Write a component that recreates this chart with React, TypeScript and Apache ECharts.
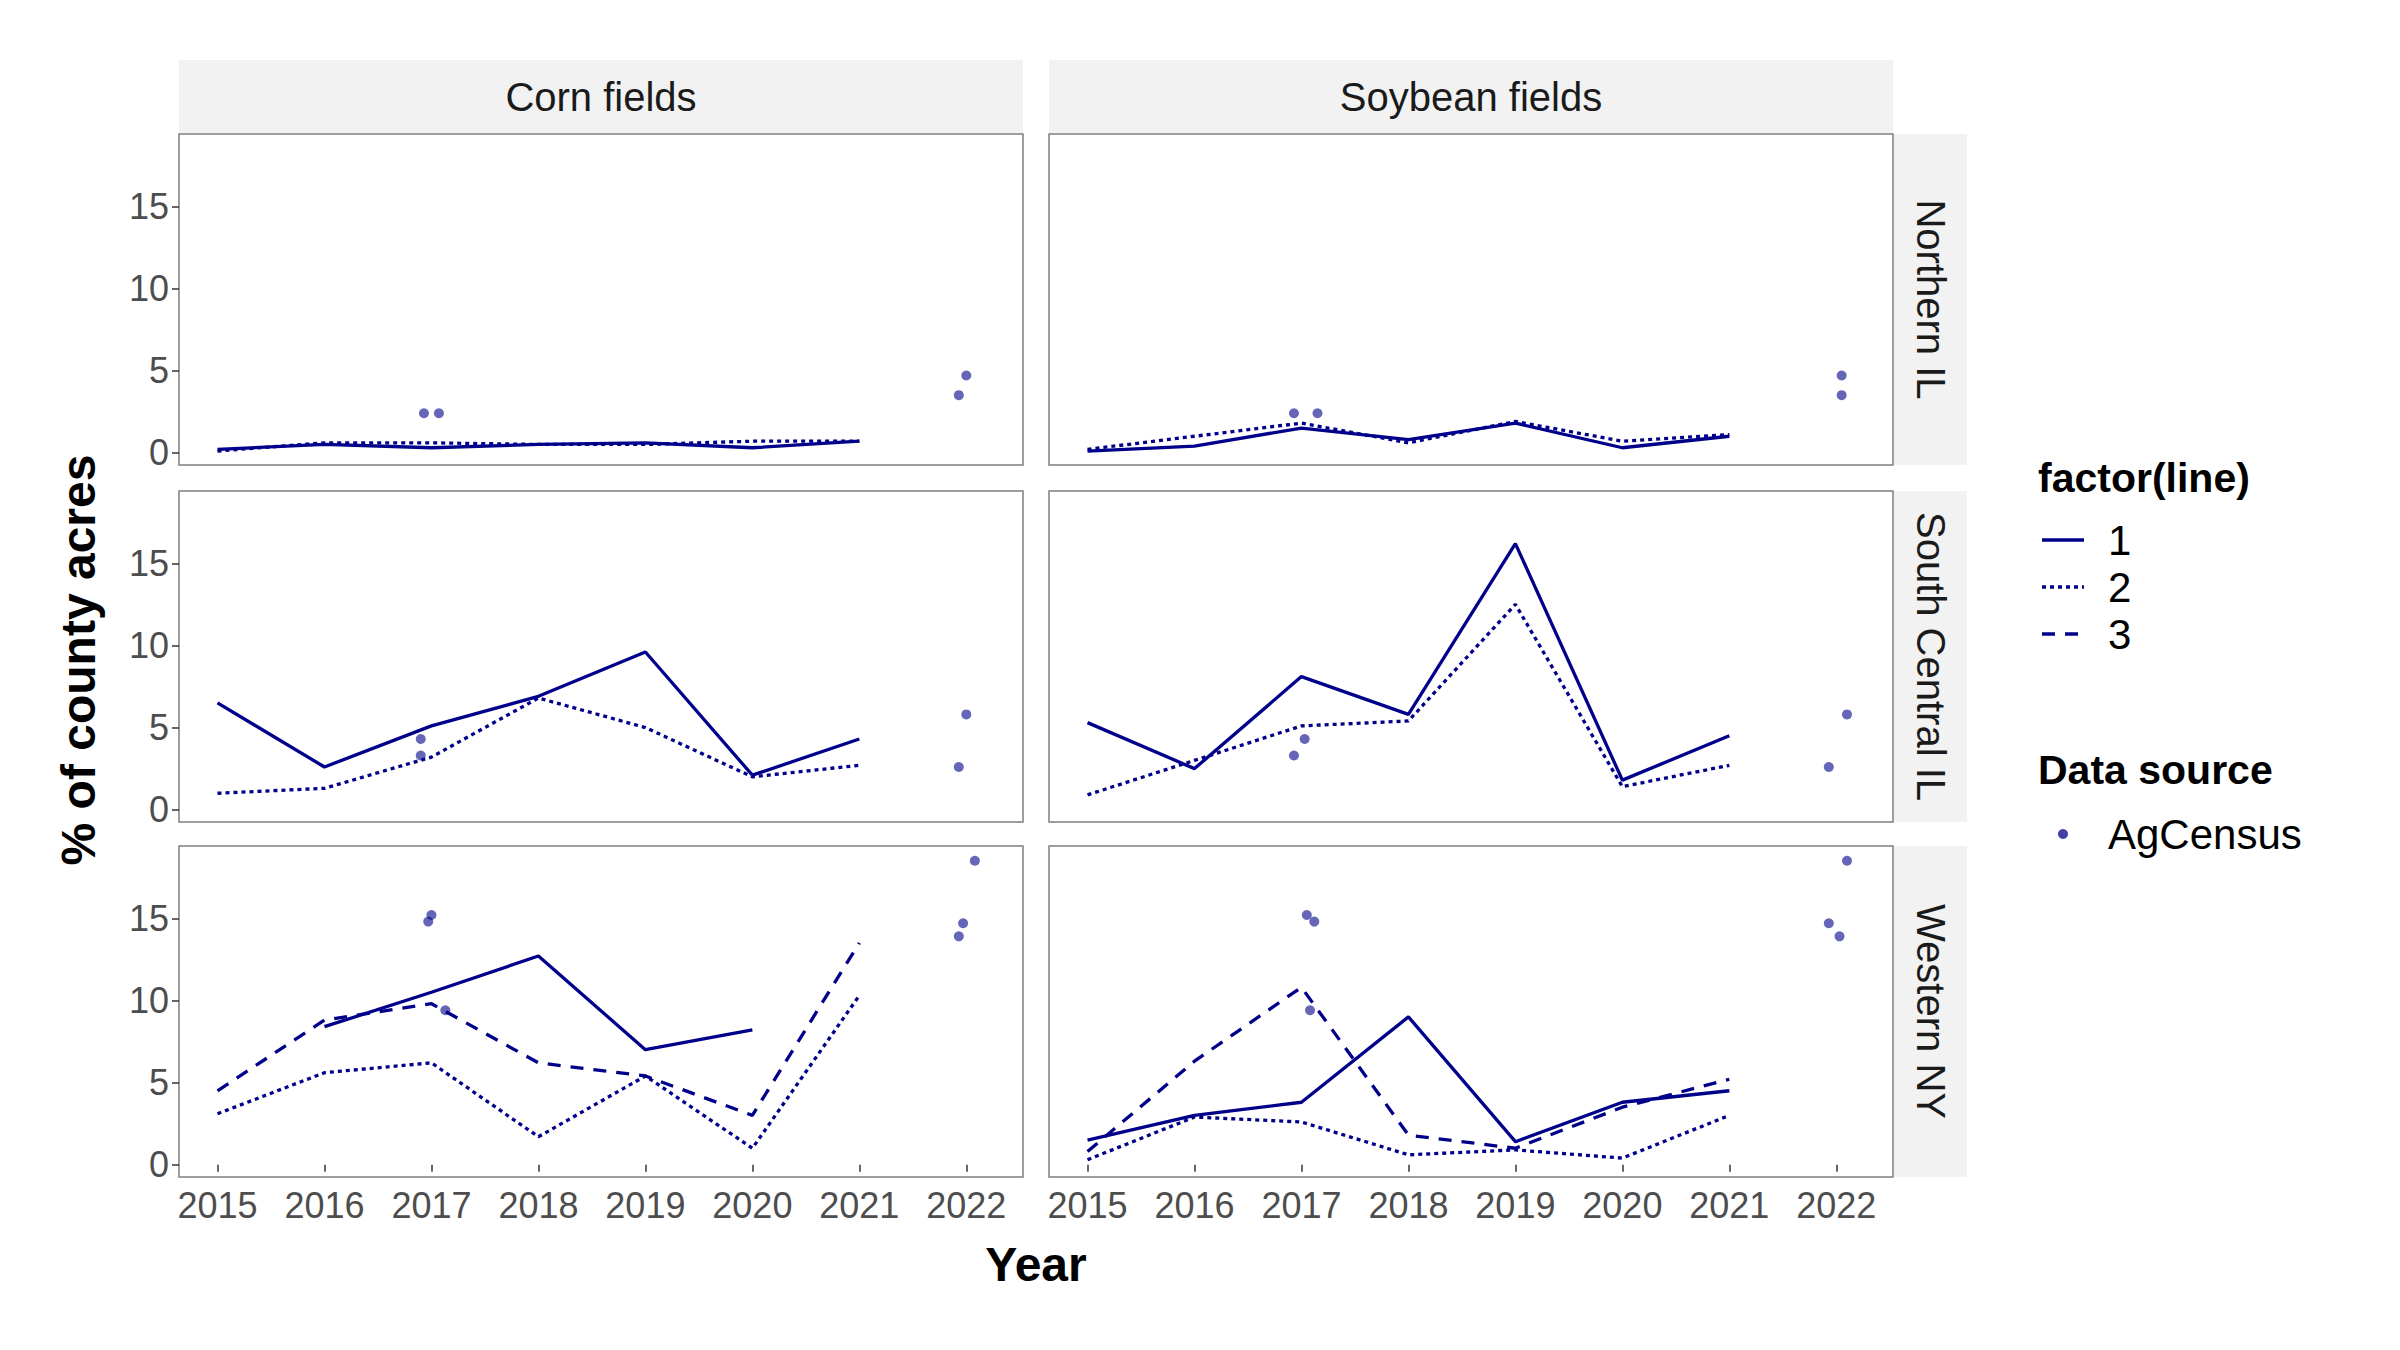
import React, { useEffect, useRef } from "react";
import * as echarts from "echarts";

const years = [2015, 2016, 2017, 2018, 2019, 2020, 2021];
const xTicks = [2015, 2016, 2017, 2018, 2019, 2020, 2021, 2022];
const yTicks = [0, 5, 10, 15];
const crops = ["Corn fields", "Soybean fields"];
const regions = ["Northern IL", "South Central IL", "Western NY"];

const nilCorn1 = [0.2, 0.5, 0.3, 0.5, 0.6, 0.3, 0.7];
const nilCorn2 = [0.1, 0.6, 0.6, 0.5, 0.5, 0.7, 0.7];
const nilSoy1 = [0.1, 0.4, 1.5, 0.8, 1.8, 0.3, 1.0];
const nilSoy2 = [0.2, 1.0, 1.8, 0.6, 1.9, 0.7, 1.1];
const scCorn1 = [6.5, 2.6, 5.1, 6.9, 9.6, 2.1, 4.3];
const scCorn2 = [1.0, 1.3, 3.2, 6.8, 5.0, 2.0, 2.7];
const scSoy1 = [5.3, 2.5, 8.1, 5.8, 16.2, 1.8, 4.5];
const scSoy2 = [0.9, 3.0, 5.1, 5.4, 12.5, 1.4, 2.7];
const nyCorn1 = [null, 8.4, 10.5, 12.7, 7.0, 8.2, null];
const nyCorn2 = [3.1, 5.6, 6.2, 1.7, 5.4, 1.0, 10.3];
const nyCorn3 = [4.5, 8.8, 9.8, 6.2, 5.4, 3.0, 13.5];
const nySoy1 = [1.5, 3.0, 3.8, 9.0, 1.4, 3.8, 4.5];
const nySoy2 = [0.3, 2.9, 2.6, 0.6, 0.9, 0.4, 3.0];
const nySoy3 = [0.8, 6.3, 10.8, 1.8, 1.0, 3.5, 5.2];

const nilCornPts = [[2016.93, 2.4], [2017.07, 2.4], [2021.93, 3.5], [2022.0, 4.7]];
const nilSoyPts = [[2016.93, 2.4], [2017.15, 2.4], [2022.05, 3.5], [2022.05, 4.7]];
const scCornPts = [[2016.9, 4.3], [2016.9, 3.3], [2021.93, 2.6], [2022.0, 5.8]];
const scSoyPts = [[2016.93, 3.3], [2017.03, 4.3], [2021.93, 2.6], [2022.1, 5.8]];
const nyCornPts = [[2016.97, 14.8], [2017.0, 15.2], [2017.13, 9.4], [2021.93, 13.9], [2021.97, 14.7], [2022.08, 18.5]];
const nySoyPts = [[2017.05, 15.2], [2017.12, 14.8], [2017.08, 9.4], [2021.93, 14.7], [2022.03, 13.9], [2022.1, 18.5]];

const panels = [
  [{ lines: [nilCorn1, nilCorn2], pts: nilCornPts }, { lines: [nilSoy1, nilSoy2], pts: nilSoyPts }],
  [{ lines: [scCorn1, scCorn2], pts: scCornPts }, { lines: [scSoy1, scSoy2], pts: scSoyPts }],
  [{ lines: [nyCorn1, nyCorn2, nyCorn3], pts: nyCornPts }, { lines: [nySoy1, nySoy2, nySoy3], pts: nySoyPts }],
];

const NAVY = "#00008B";
const DOT = [4, 4];
const DASH = [13, 10];
const lineTypes: any[] = ["solid", DOT, DASH];
const colX = [179, 1049];
const colW = 844;
const rowY = [134, 491, 846];
const rowH = 331;
const FONT = "Liberation Sans, Arial, sans-serif";

export default function App() {
  const ref = useRef<HTMLDivElement>(null);
  useEffect(() => {
    const chart = echarts.init(ref.current!, null, { renderer: "svg" });
    const grid: any[] = [], xAxis: any[] = [], yAxis: any[] = [], series: any[] = [], graphic: any[] = [];
    let idx = 0;
    for (let r = 0; r < 3; r++) {
      for (let c = 0; c < 2; c++) {
        grid.push({ left: colX[c], top: rowY[r], width: colW, height: rowH, show: true, borderColor: "#7f7f7f", borderWidth: 1.5, backgroundColor: "#fff", containLabel: false });
        xAxis.push({
          type: "value", gridIndex: idx, min: 2014.64, max: 2022.53, interval: 1,
          axisLine: { show: false }, splitLine: { show: false },
          axisTick: { show: r === 2, length: 7, lineStyle: { color: "#333", width: 1.5 }, customValues: xTicks },
          axisLabel: { show: r === 2, color: "#4d4d4d", fontSize: 36, fontFamily: FONT, margin: 10, customValues: xTicks, formatter: (v: number) => String(v) },
        });
        yAxis.push({
          type: "value", gridIndex: idx, min: -0.75, max: 19.4,
          axisLine: { show: false }, splitLine: { show: false },
          axisTick: { show: c === 0, length: 7, lineStyle: { color: "#333", width: 1.5 }, customValues: yTicks },
          axisLabel: { show: c === 0, color: "#4d4d4d", fontSize: 36, fontFamily: FONT, margin: 10, customValues: yTicks },
        });
        const p = panels[r][c];
        p.lines.forEach((l, li) => {
          series.push({
            type: "line", name: String(li + 1), xAxisIndex: idx, yAxisIndex: idx, showSymbol: false, symbol: "none",
            data: years.map((y, i) => [y, l[i]]), connectNulls: false,
            lineStyle: { color: NAVY, width: 3.3, type: lineTypes[li] },
          });
        });
        series.push({
          type: "scatter", name: "AgCensus", xAxisIndex: idx, yAxisIndex: idx, symbolSize: 10,
          data: p.pts, itemStyle: { color: "rgba(0,0,139,0.75)" },
        });
        idx++;
      }
    }
    crops.forEach((t, c) => {
      graphic.push({ type: "rect", shape: { x: colX[c], y: 60, width: colW, height: 73 }, style: { fill: "#F2F2F2" } });
      graphic.push({ type: "text", x: colX[c] + colW / 2, y: 97, style: { text: t, fontSize: 40, fontFamily: FONT, fill: "#1a1a1a", align: "center", verticalAlign: "middle" } });
    });
    regions.forEach((t, r) => {
      graphic.push({ type: "rect", shape: { x: colX[1] + colW + 1, y: rowY[r], width: 73, height: rowH }, style: { fill: "#F2F2F2" } });
      graphic.push({ type: "text", x: colX[1] + colW + 38, y: rowY[r] + rowH / 2, rotation: -Math.PI / 2, style: { text: t, fontSize: 40, fontFamily: FONT, fill: "#1a1a1a", align: "center", verticalAlign: "middle" } });
    });
    graphic.push({ type: "text", x: 1036, y: 1264, style: { text: "Year", fontSize: 48, fontWeight: "bold", fontFamily: FONT, fill: "#000", align: "center", verticalAlign: "middle" } });
    graphic.push({ type: "text", x: 78, y: 660, rotation: Math.PI / 2, style: { text: "% of county acres", fontSize: 48, fontWeight: "bold", fontFamily: FONT, fill: "#000", align: "center", verticalAlign: "middle" } });
    graphic.push({ type: "text", x: 2038, y: 478, style: { text: "factor(line)", fontSize: 41, fontWeight: "bold", fontFamily: FONT, fill: "#000", verticalAlign: "middle" } });
    ["1", "2", "3"].forEach((t, i) => {
      const y = 540 + i * 47;
      graphic.push({ type: "line", shape: { x1: 2042, y1: y, x2: 2084, y2: y }, style: { stroke: NAVY, lineWidth: 3.3, lineDash: i === 0 ? null : (i === 1 ? DOT : DASH) } });
      graphic.push({ type: "text", x: 2108, y, style: { text: t, fontSize: 42, fontFamily: FONT, fill: "#000", verticalAlign: "middle" } });
    });
    graphic.push({ type: "text", x: 2038, y: 770, style: { text: "Data source", fontSize: 41, fontWeight: "bold", fontFamily: FONT, fill: "#000", verticalAlign: "middle" } });
    graphic.push({ type: "circle", shape: { cx: 2063, cy: 834, r: 5 }, style: { fill: "rgba(0,0,139,0.75)" } });
    graphic.push({ type: "text", x: 2108, y: 834, style: { text: "AgCensus", fontSize: 42, fontFamily: FONT, fill: "#000", verticalAlign: "middle" } });

    chart.setOption({ animation: false, backgroundColor: "#fff", grid, xAxis, yAxis, series, graphic });
    return () => chart.dispose();
  }, []);
  return <div ref={ref} style={{ width: 2400, height: 1350, margin: -8 }} />;
}
